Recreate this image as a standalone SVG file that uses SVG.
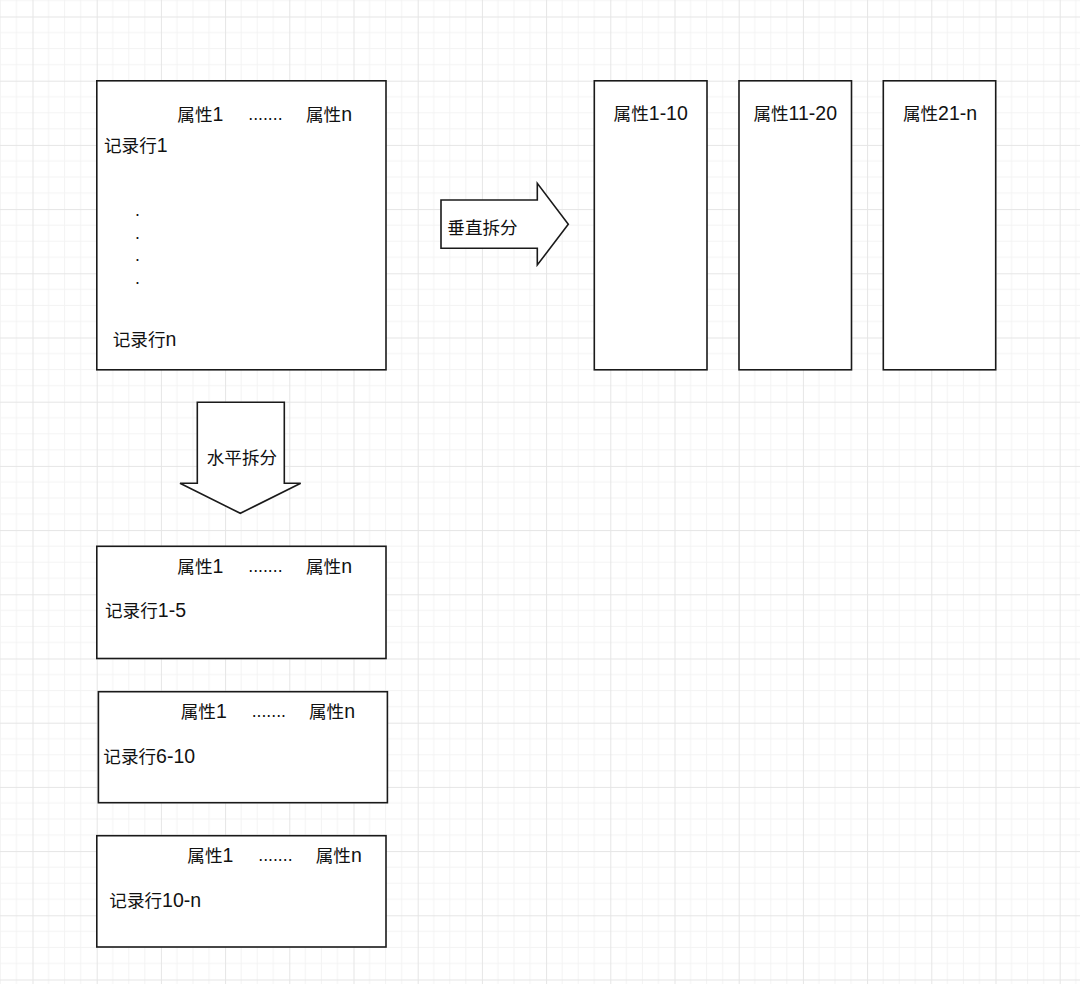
<svg xmlns="http://www.w3.org/2000/svg" width="1080" height="984" viewBox="0 0 1080 984">
<defs>
<pattern id="grid" patternUnits="userSpaceOnUse" x="32.5" y="16.5" width="64.2" height="64.2">
<path d="M16.05 0V64.2M32.1 0V64.2M48.15 0V64.2M0 16.05H64.2M0 32.1H64.2M0 48.15H64.2" stroke="#f3f3f3" stroke-width="1" fill="none"/>
<path d="M0.5 0V64.2M0 0.5H64.2" stroke="#e5e5e5" stroke-width="1" fill="none"/>
</pattern>
<style>
.box{fill:#fff;stroke:#1a1a1a;stroke-width:1.6}
.t{font-family:"Liberation Sans","Noto Sans CJK SC",sans-serif;font-size:17.6px;fill:#111}
.l{font-size:19.5px}
.m{text-anchor:middle}
</style>
</defs>
<rect width="1080" height="984" fill="#fff"/>
<rect width="1080" height="984" fill="url(#grid)"/>

<g id="table-main">
<rect class="box" x="96.8" y="80.8" width="289.2" height="289"/>
<text class="t" x="177.3" y="121">属性<tspan class="l">1</tspan></text>
<text class="t" x="248.3" y="120">.......</text>
<text class="t" x="306" y="121">属性<tspan class="l">n</tspan></text>
<text class="t" x="104" y="152.3">记录行<tspan class="l">1</tspan></text>
<text class="t" x="135" y="216">.</text>
<text class="t" x="135" y="239">.</text>
<text class="t" x="135" y="261">.</text>
<text class="t" x="135" y="284">.</text>
<text class="t" x="112.7" y="345.5">记录行<tspan class="l">n</tspan></text>
</g>

<g id="vcol-1">
<rect class="box" x="594.3" y="80.8" width="112.7" height="289"/>
<text class="t m" x="650.7" y="120">属性<tspan class="l">1-10</tspan></text>
</g>
<g id="vcol-2">
<rect class="box" x="739" y="80.8" width="112.5" height="289"/>
<text class="t m" x="795.2" y="120">属性<tspan class="l">11-20</tspan></text>
</g>
<g id="vcol-3">
<rect class="box" x="883.3" y="80.8" width="112.4" height="289"/>
<text class="t m" x="940" y="120">属性<tspan class="l">21-n</tspan></text>
</g>

<g id="hpart-1">
<rect class="box" x="96.8" y="546.3" width="289.2" height="112.2"/>
<text class="t" x="177.3" y="573.3">属性<tspan class="l">1</tspan></text>
<text class="t" x="248.3" y="572.3">.......</text>
<text class="t" x="306" y="573.3">属性<tspan class="l">n</tspan></text>
<text class="t" x="105" y="617.3">记录行<tspan class="l">1-5</tspan></text>
</g>
<g id="hpart-2">
<rect class="box" x="98.4" y="691.7" width="289" height="111"/>
<text class="t" x="180.7" y="718.3">属性<tspan class="l">1</tspan></text>
<text class="t" x="251.7" y="717.3">.......</text>
<text class="t" x="309" y="718.3">属性<tspan class="l">n</tspan></text>
<text class="t" x="103.3" y="762.7">记录行<tspan class="l">6-10</tspan></text>
</g>
<g id="hpart-3">
<rect class="box" x="96.8" y="835.7" width="289.2" height="111.3"/>
<text class="t" x="187.3" y="862.3">属性<tspan class="l">1</tspan></text>
<text class="t" x="258.3" y="861.3">.......</text>
<text class="t" x="315.7" y="862.3">属性<tspan class="l">n</tspan></text>
<text class="t" x="109.3" y="906.7">记录行<tspan class="l">10-n</tspan></text>
</g>

<g id="connectors">
<g id="arrow-vertical-split">
<path class="box" d="M441 200H537.3V183.3L568.3 224.3L537.3 265V248.3H441Z"/>
<text class="t" x="447.3" y="234">垂直拆分</text>
</g>
<g id="arrow-horizontal-split">
<path class="box" d="M197.3 402.3H284.3V483.3H300.7L240.3 513.3L180 483.3H197.3Z"/>
<text class="t" x="206.7" y="463.5">水平拆分</text>
</g>
</g>
</svg>
